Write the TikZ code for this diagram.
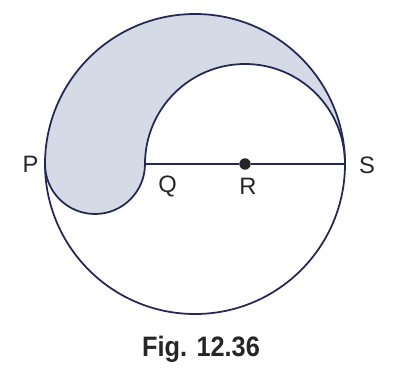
\documentclass[tikz,border=0pt]{standalone}
\usepackage{fontspec}
\setmainfont{Liberation Sans}
\usepackage{xcolor}
\usepackage{tikz}
\usetikzlibrary{positioning, calc}

\definecolor{inkblue}{RGB}{38,40,84}
\definecolor{shade}{RGB}{212,218,230}

\begin{document}
\begin{tikzpicture}[
    font=\fontsize{13.5}{15}\selectfont,
    edge/.style={draw=inkblue, line width=1pt},
    region/.style={fill=shade},
    lbl/.style={inner sep=0pt, text=black!85},
    dot/.style={circle, fill=black!85, inner sep=0pt, minimum size=6.5pt},
]
\useasboundingbox (-3.9,-4.36) rectangle (4.02,3.28);

% Points
\coordinate (P) at (-3,0);
\coordinate (Q) at (-1,0);
\coordinate (S) at (3,0);
\node[dot] (R) at (1,0) {};

% Shaded region
\fill[region] (P) arc[start angle=180, end angle=0, radius=3]
    arc[start angle=0, end angle=180, radius=2]
    arc[start angle=0, end angle=-180, radius=1] -- cycle;

% Outlines
\draw[edge] (0,0) circle[radius=3];
\draw[edge] (S) arc[start angle=0, end angle=180, radius=2];
\draw[edge] (Q) arc[start angle=0, end angle=-180, radius=1];
\draw[edge] (Q) -- (R) -- (S);

% Labels
\node[lbl] (lP) at (-3.29,0) {P};
\node[lbl] (lS) at (3.44,-0.02) {S};
\node[lbl] (lQ) at (-0.55,-0.44) {Q};
\node[lbl] (lR) at (1.06,-0.44) {R};
\node[lbl, anchor=base, xscale=0.9, font=\fontsize{16}{18}\selectfont\bfseries] (cap) at (0.12,-3.85) {Fig. 12.36};

\end{tikzpicture}
\end{document}
